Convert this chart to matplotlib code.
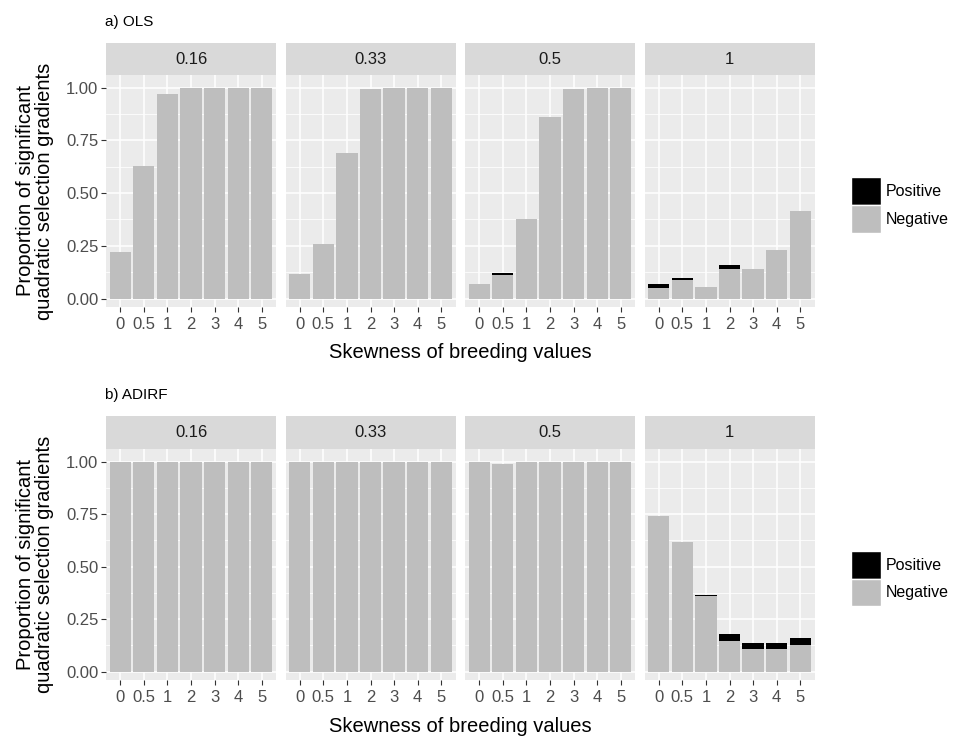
import matplotlib.pyplot as plt
from matplotlib.patches import Patch

plt.rcParams['font.family'] = ['Liberation Sans', 'DejaVu Sans']

skew_labels = ["0", "0.5", "1", "2", "3", "4", "5"]
facets = ["0.16", "0.33", "0.5", "1"]

# a) OLS
ols_neg_016 = [0.22, 0.63, 0.97, 1.0, 1.0, 1.0, 1.0]
ols_pos_016 = [0, 0, 0, 0, 0, 0, 0]
ols_neg_033 = [0.117, 0.257, 0.692, 0.992, 1.0, 1.0, 1.0]
ols_pos_033 = [0, 0, 0, 0, 0, 0, 0]
ols_neg_05 = [0.071, 0.111, 0.379, 0.86, 0.992, 1.0, 1.0]
ols_pos_05 = [0, 0.008, 0, 0, 0, 0, 0]
ols_neg_1 = [0.051, 0.090, 0.057, 0.138, 0.138, 0.232, 0.413]
ols_pos_1 = [0.020, 0.008, 0, 0.021, 0, 0, 0]

# b) ADIRF
adirf_neg_016 = [1.0, 1.0, 1.0, 1.0, 1.0, 1.0, 1.0]
adirf_pos_016 = [0, 0, 0, 0, 0, 0, 0]
adirf_neg_033 = [1.0, 1.0, 1.0, 1.0, 1.0, 1.0, 1.0]
adirf_pos_033 = [0, 0, 0, 0, 0, 0, 0]
adirf_neg_05 = [1.0, 0.99, 1.0, 1.0, 1.0, 1.0, 1.0]
adirf_pos_05 = [0, 0, 0, 0, 0, 0, 0]
adirf_neg_1 = [0.742, 0.618, 0.359, 0.147, 0.107, 0.107, 0.126]
adirf_pos_1 = [0, 0, 0.008, 0.032, 0.030, 0.030, 0.036]

rows = [
    ("a) OLS", [(ols_neg_016, ols_pos_016), (ols_neg_033, ols_pos_033),
                (ols_neg_05, ols_pos_05), (ols_neg_1, ols_pos_1)]),
    ("b) ADIRF", [(adirf_neg_016, adirf_pos_016), (adirf_neg_033, adirf_pos_033),
                  (adirf_neg_05, adirf_pos_05), (adirf_neg_1, adirf_pos_1)]),
]

W, H = 956, 738
fig = plt.figure(figsize=(W / 100, H / 100), dpi=100)

def fx(px):
    return px / W

def fy(py):
    return 1 - py / H

# pixel layout: (strip top, panel top, panel bottom) per row
row_px = [(43, 75, 307), (416, 449, 680)]
left0, step, pw = 106, 179.5, 170
neg_col = "#BEBEBE"
pos_col = "#000000"
tick_col = "#4D4D4D"

for r, (title, panels) in enumerate(rows):
    st, pt, pb = row_px[r]
    for c, (neg, pos) in enumerate(panels):
        x0 = left0 + c * step
        ax = fig.add_axes([fx(x0), fy(pb), pw / W, (pb - pt) / H])
        ax.set_facecolor("#EBEBEB")
        xs = range(len(skew_labels))
        ax.bar(xs, neg, width=0.9, color=neg_col, zorder=3)
        ax.bar(xs, pos, width=0.9, bottom=neg, color=pos_col, zorder=3)
        ax.set_xlim(-0.6, 6.6)
        ax.set_ylim(-0.04, 1.06)
        ax.set_xticks(list(xs))
        ax.set_xticklabels(skew_labels)
        ax.set_yticks([0, 0.25, 0.5, 0.75, 1.0])
        ax.set_yticks([0.125, 0.375, 0.625, 0.875], minor=True)
        ax.grid(which="major", color="white", lw=1.1, zorder=1)
        ax.grid(which="minor", axis="y", color="white", lw=0.55, zorder=1)
        for s in ax.spines.values():
            s.set_visible(False)
        ax.tick_params(axis="x", which="major", length=3.5, width=0.8, color="#333333",
                       labelcolor=tick_col, labelsize=12, pad=3.5)
        ax.tick_params(which="minor", length=0)
        if c == 0:
            ax.set_yticklabels(["0.00", "0.25", "0.50", "0.75", "1.00"])
            ax.tick_params(axis="y", which="major", length=3.5, width=0.8, color="#333333",
                           labelcolor=tick_col, labelsize=12, pad=2)
        else:
            ax.tick_params(axis="y", which="major", length=0, labelleft=False)

        # facet strip
        sax = fig.add_axes([fx(x0), fy(pt), pw / W, (pt - st) / H])
        sax.set_facecolor("#D9D9D9")
        sax.set_xticks([])
        sax.set_yticks([])
        for s in sax.spines.values():
            s.set_visible(False)
        sax.text(0.5, 0.5, facets[c], ha="center", va="center", fontsize=12,
                 color="#1A1A1A", transform=sax.transAxes)

    fig.text(fx(105), fy(st - 21), title, ha="left", va="center", fontsize=11)
    fig.text(fx(left0 + (3 * step + pw) / 2), fy(pb + 46), "Skewness of breeding values",
             ha="center", va="center", fontsize=14.5)
    fig.text(fx(35), fy((pt + pb) / 2),
             "Proportion of significant\nquadratic selection gradients",
             ha="center", va="center", rotation=90, fontsize=14.5, linespacing=0.95)

    handles = [Patch(facecolor=pos_col, edgecolor="white", label="Positive"),
               Patch(facecolor=neg_col, edgecolor="white", label="Negative")]
    fig.legend(handles=handles, loc="center left",
               bbox_to_anchor=(fx(851), fy((pt + pb) / 2 + 14)),
               frameon=False, fontsize=11.5, handlelength=1.9, handleheight=2.3,
               handletextpad=0.3, labelspacing=0.0, borderpad=0, borderaxespad=0)

fig.savefig("out.png", dpi=100)
